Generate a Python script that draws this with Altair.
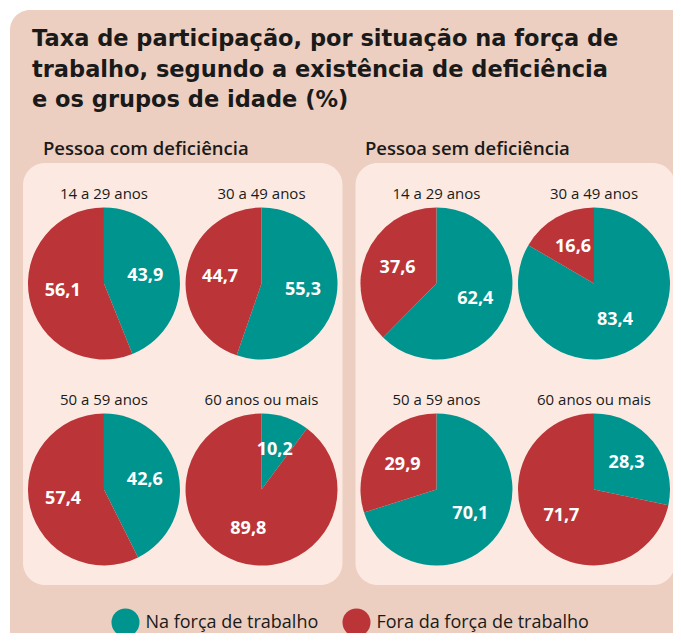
import altair as alt
import pandas as pd

# ---- data ----
grupos = ["Pessoa com deficiência", "Pessoa sem deficiência"]
idades = ["14 a 29 anos", "30 a 49 anos", "50 a 59 anos", "60 anos ou mais"]
situacoes = ["Na força de trabalho", "Fora da força de trabalho"]
na_forca_com = [43.9, 55.3, 42.6, 10.2]
fora_forca_com = [56.1, 44.7, 57.4, 89.8]
na_forca_sem = [62.4, 83.4, 70.1, 28.3]
fora_forca_sem = [37.6, 16.6, 29.9, 71.7]
colunas = ["esq", "dir", "esq", "dir"]
linhas = ["topo", "topo", "base", "base"]

titulo = [
    "Taxa de participação, por situação na força de",
    "trabalho, segundo a existência de deficiência",
    "e os grupos de idade (%)",
]

# ---- styles ----
TEAL = "#00948f"
RED = "#bb3538"
OUTER = "#eccfc0"
PANEL = "#fceae2"
INK = "#1a1a1a"
FONT = "Open Sans"
TITLE_FONT = "DejaVu Sans"

rows = []
series = {
    grupos[0]: (na_forca_com, fora_forca_com),
    grupos[1]: (na_forca_sem, fora_forca_sem),
}
for g, (na, fora) in series.items():
    for i, idade in enumerate(idades):
        for k, (sit, vals) in enumerate(zip(situacoes, (na, fora))):
            rows.append({
                "grupo": g, "idade": idade, "situacao": sit, "ordem": k,
                "valor": vals[i], "coluna": colunas[i], "linha": linhas[i],
            })
df = pd.DataFrame(rows)

x_enc = alt.X("grupo:N", axis=None,
              scale=alt.Scale(domain=grupos, range=[15, 667],
                              paddingInner=0.039, paddingOuter=0))
xo_enc = alt.XOffset("coluna:N",
                     scale=alt.Scale(type="point", domain=["esq", "dir"],
                                     range=[0, 319.5], padding=0.514))
y_enc = alt.Y("linha:N", axis=None,
              scale=alt.Scale(type="point", domain=["topo", "base"],
                              range=[275.5, 481.5], padding=0))
theta_scale = alt.Scale(domain=[0, 100], range=[0, 6.283185307])

base = alt.Chart(df).transform_window(
    cum="sum(valor)", groupby=["grupo", "idade"], sort=[alt.SortField("ordem")]
).transform_calculate(
    start="datum.cum - datum.valor",
    mid="datum.cum - datum.valor / 2",
    rotulo="replace(format(datum.valor, '.1f'), '.', ',')",
)

outer = alt.Chart(alt.Data(values=[{}])).mark_rect(
    cornerRadius=20, color=OUTER
).encode(x=alt.value(2), x2=alt.value(700), y=alt.value(2), y2=alt.value(700))

panels = alt.Chart(pd.DataFrame({"grupo": grupos})).mark_bar(
    cornerRadius=22, color=PANEL, width=319.5
).encode(x=x_enc, y=alt.value(155), y2=alt.value(577))

arcs = base.mark_arc(outerRadius=76).encode(
    x=x_enc, xOffset=xo_enc, y=y_enc,
    theta=alt.Theta("start:Q", scale=theta_scale, stack=False),
    theta2=alt.Theta2("cum:Q"),
    color=alt.Color(
        "situacao:N",
        scale=alt.Scale(domain=situacoes, range=[TEAL, RED]),
        legend=alt.Legend(
            orient="none", legendX=103.5, legendY=600.5, direction="horizontal",
            title=None, symbolType="circle", symbolSize=784, symbolStrokeWidth=0,
            symbolOpacity=1, labelFontSize=18, labelFont=FONT, labelColor=INK,
            labelOffset=6, columnPadding=24, padding=0, labelLimit=400,
        ),
    ),
)

valores = base.mark_text(
    radius=42, font=FONT, fontSize=18, fontWeight="bold", color="white",
    align="center", baseline="middle",
).encode(
    x=x_enc, xOffset=xo_enc, y=y_enc,
    theta=alt.Theta("mid:Q", scale=theta_scale, stack=False),
    text="rotulo:N",
)

idade_lbl = base.transform_filter("datum.ordem == 0").mark_text(
    dy=-85, font=FONT, fontSize=15, color=INK, align="center", baseline="alphabetic",
).encode(x=x_enc, xOffset=xo_enc, y=y_enc, text="idade:N")

def label(txt, x, y, size, weight="bold", lh=None, font=FONT):
    kw = dict(align="left", baseline="alphabetic", font=font, fontSize=size,
              fontWeight=weight, color=INK)
    if lh is not None:
        kw["lineHeight"] = lh
    return alt.Chart(alt.Data(values=[{}])).mark_text(**kw).encode(
        x=alt.value(x), y=alt.value(y), text=alt.value(txt))

sub1 = label(grupos[0], 35, 147, 18.5, weight=600)
sub2 = label(grupos[1], 357, 147, 18.5, weight=600)
title = label(titulo, 24, 38, 22.5, lh=30.5, font=TITLE_FONT)

chart = alt.layer(
    outer, panels, arcs, valores, idade_lbl, sub1, sub2, title
).properties(
    width=665, height=625, padding=0,
    autosize=alt.AutoSizeParams(type="none"),
    background="white",
).configure_view(strokeWidth=0)

chart.save("out.html", embed_options={"renderer": "svg", "actions": False})
